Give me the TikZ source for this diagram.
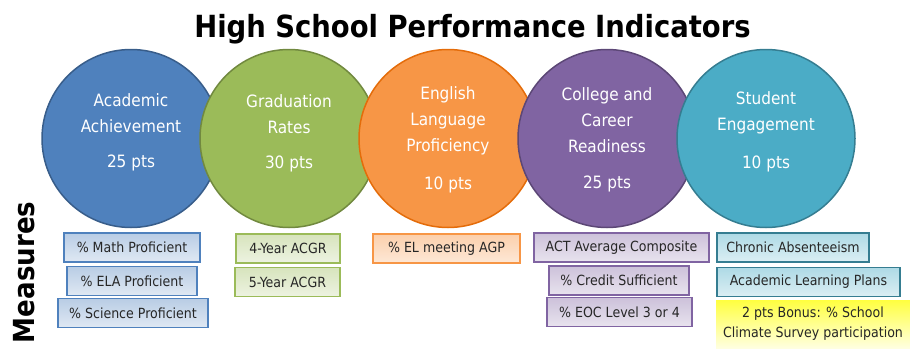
\documentclass[tikz,border=0pt]{standalone}
\usepackage{fontspec}
\setmainfont{DejaVu Sans Condensed}
\newfontfamily\titlefont{DejaVu Sans Condensed}[BoldFont={DejaVu Sans Condensed Bold}]
\definecolor{cblue}{HTML}{4F81BD}\definecolor{bblue}{HTML}{385D8A}
\definecolor{cgreen}{HTML}{9BBB59}\definecolor{bgreen}{HTML}{71893F}
\definecolor{corange}{HTML}{F79646}\definecolor{borange}{HTML}{E46C0A}
\definecolor{cpurple}{HTML}{8064A2}\definecolor{bpurple}{HTML}{5C4776}
\definecolor{cteal}{HTML}{4BACC6}\definecolor{bteal}{HTML}{357D91}
\definecolor{txt}{HTML}{262626}
\tikzset{
  ind/.style={circle, minimum size=178pt, inner sep=0pt, line width=1.5pt},
  ctext/.style={text=white, align=center, font=\fontsize{17}{26}\selectfont},
  ptext/.style={text=white, font=\fontsize{17}{20}\selectfont},
  meas/.style={rectangle, minimum height=29pt, inner sep=0pt, line width=1.1pt, text=txt, font=\fontsize{14}{16}\selectfont},
  mblue/.style={meas, draw=cblue, top color=cblue!40, bottom color=cblue!18},
  mgreen/.style={meas, draw=cgreen, top color=cgreen!40, bottom color=cgreen!18},
  morange/.style={meas, draw=corange, top color=corange!45, bottom color=corange!22},
  mpurple/.style={meas, draw=cpurple, top color=cpurple!40, bottom color=cpurple!18},
  mteal/.style={meas, draw=bteal, top color=cteal!45, bottom color=cteal!20},
}
\begin{document}
\begin{tikzpicture}[x=1pt,y=-1pt]
\useasboundingbox (0,0) rectangle (910,348);
\node[anchor=base, font=\titlefont\bfseries\fontsize{30.5}{32}\selectfont] (title) at (472.5,37) {High School Performance Indicators};
\node[anchor=base, rotate=90, font=\titlefont\bfseries\fontsize{29}{30}\selectfont] (measures) at (34,272.5) {Measures};
% circles
\node[ind, fill=cblue, draw=bblue] (c1) at (131,138.5) {};
\node[ind, fill=cgreen, draw=bgreen] (c2) at (289,138.5) {};
\node[ind, fill=corange, draw=borange] (c3) at (448,138.5) {};
\node[ind, fill=cpurple, draw=bpurple] (c4) at (607,138.5) {};
\node[ind, fill=cteal, draw=bteal] (c5) at (766,138.5) {};
% circle texts
\node[ctext] (t1) at (131,113) {Academic\\Achievement};
\node[ptext] (p1) at (131,163) {25 pts};
\node[ctext] (t2) at (289,114) {Graduation\\Rates};
\node[ptext] (p2) at (289,164) {30 pts};
\node[ctext] (t3) at (448,121) {English\\Language\\Proficiency};
\node[ptext] (p3) at (448,185) {10 pts};
\node[ctext] (t4) at (607,120.5) {College and\\Career\\Readiness};
\node[ptext] (p4) at (607,184) {25 pts};
\node[ctext] (t5) at (766,113) {Student\\Engagement};
\node[ptext] (p5) at (766,164) {10 pts};
% measures boxes
\node[mblue, minimum width=136pt] (m11) at (132,247.5) {\% Math Proficient};
\node[mblue, minimum width=130pt] (m12) at (132,281) {\% ELA Proficient};
\node[mblue, minimum width=150pt] (m13) at (133,313) {\% Science Proficient};
\node[mgreen, minimum width=104pt] (m21) at (288,248.5) {4-Year ACGR};
\node[mgreen, minimum width=105pt] (m22) at (287.5,282) {5-Year ACGR};
\node[morange, minimum width=147pt] (m31) at (446.5,248.5) {\% EL meeting AGP};
\node[mpurple, minimum width=175pt] (m41) at (621.5,247.5) {ACT Average Composite};
\node[mpurple, minimum width=140pt] (m42) at (619,280.5) {\% Credit Sufficient};
\node[mpurple, minimum width=145pt] (m43) at (619.5,312) {\% EOC Level 3 or 4};
\node[mteal, minimum width=152pt] (m51) at (793,247.5) {Chronic Absenteeism};
\node[mteal, minimum width=183pt] (m52) at (808.5,282) {Academic Learning Plans};
\node[rectangle, minimum width=194pt, minimum height=48pt, inner sep=0pt, top color=yellow!75, bottom color=yellow!12, text=txt, align=center, font=\fontsize{14}{20}\selectfont] (bonus) at (813,324) {2 pts Bonus: \% School\\Climate Survey participation};
\end{tikzpicture}
\end{document}
